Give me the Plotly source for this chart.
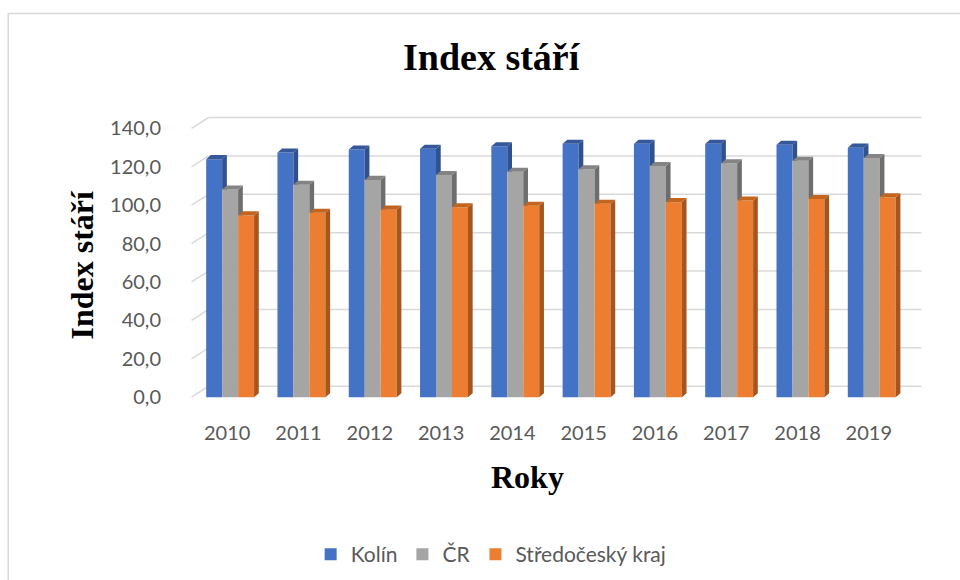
import plotly.graph_objects as go

# ---------------- data ----------------
years = ['2010', '2011', '2012', '2013', '2014', '2015', '2016', '2017', '2018', '2019']
kolin = [124.0, 127.4, 129.0, 129.4, 130.7, 132.0, 132.0, 132.0, 131.5, 130.0]
cr = [108.2, 110.7, 113.2, 115.7, 117.4, 118.7, 120.4, 121.9, 123.2, 124.6]
stredocesky = [94.7, 96.1, 97.7, 98.9, 99.7, 100.7, 101.6, 102.4, 103.2, 104.1]
series_names = ['Kolín', 'ČR', 'Středočeský kraj']
y_tickvals = [0, 20, 40, 60, 80, 100, 120, 140]
y_ticktext = ['0,0', '20,0', '40,0', '60,0', '80,0', '100,0', '120,0', '140,0']

# ---------------- styling / geometry ----------------
W, H = 960, 580
front_cols = ['#4472C4', '#A5A5A5', '#ED7D31']
side_cols = ['#2F528F', '#6E6E6E', '#A5561F']
top_cols = ['#35589A', '#848484', '#C4651F']
offsets = [-0.295, -0.071, 0.153]
bw = 0.224
dx, dy = 0.066, 2.1          # bar depth (x units, value units)
wdx, wdy = 0.24, 5.7         # wall offset
xr = [-0.55, 9.76]
yr = [-2, 147]
ml, mr, mt, mb = 187.8, 37.1, 114.6, 179.2
pw = W - ml - mr
ph = H - mt - mb
grid_col = '#D9D9D9'
txt_col = '#595959'


def px_x(px):
    return (px - ml) / pw


def px_y(py):
    return (H - mb - py) / ph


xs = list(range(len(years)))
values = [kolin, cr, stredocesky]

fig = go.Figure()

# front faces as bars
for s, vals in enumerate(values):
    fig.add_trace(go.Bar(
        x=xs, y=vals, name=series_names[s],
        width=bw, offset=offsets[s],
        marker=dict(color=front_cols[s], line=dict(width=0)),
        hovertemplate='%{y:.1f}<extra>' + series_names[s] + '</extra>',
    ))

# side and top faces computed from the same values
for s, vals in enumerate(values):
    sx, sy, tx, ty = [], [], [], []
    for i, h in enumerate(vals):
        x0 = i + offsets[s]
        x1 = x0 + bw
        if s < len(values) - 1:
            hn = values[s + 1][i]
            if h > hn:
                sx += [x1, x1, x1 + dx, x1 + dx, x1, None]
                sy += [hn, h, h + dy, hn, hn, None]
        else:
            sx += [x1, x1, x1 + dx, x1 + dx, x1, None]
            sy += [0, h, h + dy, dy, 0, None]
        tx += [x0, x0 + dx, x1 + dx, x1, x0, None]
        ty += [h, h + dy, h + dy, h, h, None]
    fig.add_trace(go.Scatter(x=sx, y=sy, mode='lines', fill='toself',
                             fillcolor=side_cols[s], line=dict(width=0, color=side_cols[s]),
                             showlegend=False, hoverinfo='skip'))
    fig.add_trace(go.Scatter(x=tx, y=ty, mode='lines', fill='toself',
                             fillcolor=top_cols[s], line=dict(width=0, color=top_cols[s]),
                             showlegend=False, hoverinfo='skip'))

# back-wall gridlines and left diagonal ticks
shapes = []
for v in y_tickvals:
    shapes.append(dict(type='line', xref='x', yref='y', layer='below',
                       x0=xr[0] + 0.05, y0=v, x1=xr[0] + 0.05 + wdx, y1=v + wdy,
                       line=dict(color=grid_col, width=1.5)))
    shapes.append(dict(type='line', xref='x', yref='y', layer='below',
                       x0=xr[0] + 0.05 + wdx, y0=v + wdy, x1=9.5 + wdx, y1=v + wdy,
                       line=dict(color=grid_col, width=1.5)))
# chart border
shapes.append(dict(type='rect', xref='paper', yref='paper',
                   x0=px_x(8), y0=px_y(13), x1=px_x(975), y1=px_y(595),
                   line=dict(color=grid_col, width=1.5), fillcolor='rgba(0,0,0,0)'))

annotations = [
    dict(text='<b>Index stáří</b>', xref='paper', yref='paper', x=px_x(492), y=px_y(57),
         xanchor='center', yanchor='middle', showarrow=False,
         font=dict(family='Liberation Serif', size=38, color='#000000')),
    dict(text='<b>Index stáří</b>', xref='paper', yref='paper', x=px_x(82), y=px_y(264),
         xanchor='center', yanchor='middle', showarrow=False, textangle=-90,
         font=dict(family='Liberation Serif', size=32, color='#000000')),
    dict(text='<b>Roky</b>', xref='paper', yref='paper', x=px_x(527), y=px_y(477),
         xanchor='center', yanchor='middle', showarrow=False,
         font=dict(family='Liberation Serif', size=32, color='#000000')),
]

fig.update_layout(
    width=W, height=H,
    margin=dict(l=ml, r=mr, t=mt, b=mb, autoexpand=False),
    paper_bgcolor='white', plot_bgcolor='white',
    barmode='overlay',
    showlegend=True,
    legend=dict(orientation='h', x=px_x(491), xanchor='center', y=px_y(534), yanchor='top',
                font=dict(family='Lato', size=21, color=txt_col),
                itemwidth=30, traceorder='normal'),
    shapes=shapes,
    annotations=annotations,
    xaxis=dict(range=xr, tickmode='array', tickvals=xs, ticktext=years,
               showgrid=False, zeroline=False, showline=False, ticks='',
               ticklabelstandoff=18,
               tickfont=dict(family='Lato', size=20, color=txt_col)),
    yaxis=dict(range=yr, tickmode='array', tickvals=y_tickvals, ticktext=y_ticktext,
               showgrid=False, zeroline=False, showline=False, ticks='',
               ticklabelstandoff=26,
               tickfont=dict(family='Lato', size=20, color=txt_col)),
)

fig.write_html('out.html', config={'displayModeBar': False},
               post_script="document.body.style.margin='0';")
